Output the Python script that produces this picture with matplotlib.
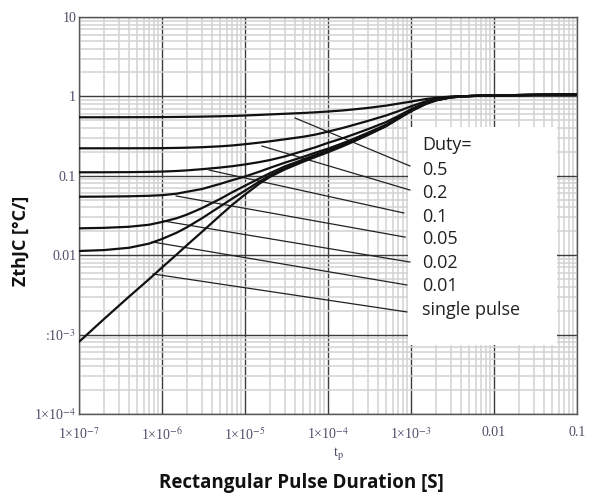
import numpy as np
import matplotlib
matplotlib.use("Agg")
import matplotlib.pyplot as plt
from matplotlib.ticker import LogLocator, FixedLocator, FixedFormatter, NullFormatter
from matplotlib.patches import Rectangle

plt.rcParams['mathtext.fontset'] = 'stix'

# ---- data ----
t = [1e-7, 2e-7, 4e-7, 7e-7, 1e-6, 1.5e-6, 2e-6, 3e-6, 5e-6, 7e-6,
     1e-5, 1.5e-5, 2e-5, 3e-5, 5e-5, 7e-5, 1e-4, 1.5e-4, 2e-4, 3e-4,
     5e-4, 7e-4, 1e-3, 1.5e-3, 2e-3, 3e-3, 5e-3, 1e-2, 3e-2, 1e-1]

z_d05 = [0.546, 0.546, 0.547, 0.548, 0.549, 0.551, 0.553, 0.556, 0.562, 0.567,
         0.575, 0.585, 0.593, 0.604, 0.618, 0.630, 0.645, 0.665, 0.685, 0.715,
         0.765, 0.810, 0.860, 0.925, 0.960, 0.995, 1.010, 1.030, 1.045, 1.060]
z_d02 = [0.222, 0.222, 0.2222, 0.2226, 0.223, 0.2245, 0.226, 0.229, 0.235, 0.241,
         0.250, 0.262, 0.272, 0.288, 0.310, 0.330, 0.360, 0.400, 0.435, 0.490,
         0.575, 0.650, 0.750, 0.865, 0.930, 0.985, 1.010, 1.030, 1.045, 1.060]
z_d01 = [0.1107, 0.1108, 0.1112, 0.112, 0.113, 0.115, 0.117, 0.121, 0.127, 0.132,
         0.139, 0.149, 0.158, 0.175, 0.205, 0.228, 0.260, 0.297, 0.330, 0.385,
         0.475, 0.565, 0.690, 0.830, 0.910, 0.980, 1.010, 1.030, 1.045, 1.060]
z_d005 = [0.0545, 0.0547, 0.0552, 0.056, 0.057, 0.0595, 0.063, 0.068, 0.079, 0.088,
          0.098, 0.113, 0.126, 0.146, 0.173, 0.195, 0.220, 0.257, 0.290, 0.347,
          0.440, 0.540, 0.665, 0.815, 0.900, 0.977, 1.010, 1.030, 1.045, 1.060]
z_d002 = [0.0218, 0.0221, 0.0228, 0.0242, 0.0262, 0.0292, 0.0325, 0.039, 0.051, 0.062,
          0.075, 0.093, 0.108, 0.131, 0.160, 0.183, 0.210, 0.247, 0.280, 0.337,
          0.432, 0.532, 0.660, 0.810, 0.897, 0.975, 1.010, 1.030, 1.045, 1.060]
z_d001 = [0.0113, 0.0116, 0.0124, 0.0140, 0.0160, 0.0192, 0.0225, 0.0290, 0.0410, 0.0515,
          0.065, 0.085, 0.101, 0.124, 0.154, 0.177, 0.203, 0.240, 0.273, 0.330,
          0.425, 0.525, 0.655, 0.805, 0.893, 0.972, 1.010, 1.030, 1.045, 1.060]
z_single = [8.1e-4, 1.57e-3, 3.0e-3, 5.0e-3, 7.0e-3, 1.02e-2, 1.34e-2, 1.95e-2, 3.15e-2, 4.3e-2,
            0.058, 0.080, 0.097, 0.120, 0.150, 0.172, 0.198, 0.235, 0.268, 0.325,
            0.420, 0.520, 0.650, 0.800, 0.890, 0.970, 1.010, 1.030, 1.045, 1.060]

curves = [z_d05, z_d02, z_d01, z_d005, z_d002, z_d001, z_single]

legend_title = "Duty="
legend_labels = ["0.5", "0.2", "0.1", "0.05", "0.02", "0.01", "single pulse"]

# pointer lines from curves to legend entries
ptr_start_t = [4.0e-5, 1.6e-5, 3.7e-6, 1.48e-6, 1.03e-6, 7.6e-7, 7.8e-7]
ptr_start_z = [0.535, 0.237, 0.118, 0.0557, 0.027, 0.0147, 0.0058]
ptr_end_t = [9.7e-4, 9.7e-4, 8.2e-4, 8.5e-4, 9.7e-4, 8.9e-4, 8.9e-4]
ptr_end_z = [0.133, 0.0662, 0.034, 0.0169, 0.0082, 0.00422, 0.00193]

x_ticks = [1e-7, 1e-6, 1e-5, 1e-4, 1e-3, 1e-2, 1e-1]
x_ticklabels = [r"1×10$^{-7}$", r"1×10$^{-6}$", r"1×10$^{-5}$", r"1×10$^{-4}$",
                r"1×10$^{-3}$", "0.01", "0.1"]
y_ticks = [1e-4, 1e-3, 1e-2, 1e-1, 1, 10]
y_ticklabels = [r"1×10$^{-4}$", r":10$^{-3}$", "0.01", "0.1", "1", "10"]

# ---- figure ----
fig = plt.figure(figsize=(5.93, 4.96), dpi=100)
ax = fig.add_axes([79/593, 82/496, 498/593, 397/496])
ax.set_xscale('log')
ax.set_yscale('log')
ax.set_xlim(1e-7, 1e-1)
ax.set_ylim(1e-4, 10)

ax.xaxis.set_major_locator(FixedLocator(x_ticks))
ax.xaxis.set_major_formatter(FixedFormatter(x_ticklabels))
ax.yaxis.set_major_locator(FixedLocator(y_ticks))
ax.yaxis.set_major_formatter(FixedFormatter(y_ticklabels))
for axis in (ax.xaxis, ax.yaxis):
    axis.set_minor_locator(LogLocator(base=10, subs=np.arange(2, 10), numticks=100))
    axis.set_minor_formatter(NullFormatter())

ax.grid(which='minor', color='#d2d2d2', lw=1.1, zorder=0)
ax.grid(which='major', color='#3c3c3c', lw=1.0, zorder=0.5)
ax.set_axisbelow(True)

tick_color = '#4f4e6a'
ax.tick_params(which='both', length=0)
ax.tick_params(axis='x', pad=9, labelsize=10, labelcolor=tick_color)
ax.tick_params(axis='y', pad=2, labelsize=10, labelcolor=tick_color)
for lab in ax.get_xticklabels() + ax.get_yticklabels():
    lab.set_family('Liberation Serif')

for sp in ax.spines.values():
    sp.set_color('#555555')
    sp.set_linewidth(1.0)

# legend white box
ax.add_patch(Rectangle((0.661, 0.174), 0.299, 0.549, transform=ax.transAxes,
                       facecolor='white', edgecolor='none', zorder=2))

for z in curves:
    ax.plot(t, z, color='#111111', lw=1.6, zorder=4, solid_capstyle='round',
            solid_joinstyle='round')

for ts, zs, te, ze in zip(ptr_start_t, ptr_start_z, ptr_end_t, ptr_end_z):
    ax.plot([ts, te], [zs, ze], color='#222222', lw=0.9, zorder=3)

leg_font = 'Open Sans'
ax.text(0.689, 0.678, legend_title, transform=ax.transAxes, fontsize=13,
        family=leg_font, color='#222222', va='center', ha='left', zorder=5)
leg_y = [0.615, 0.557, 0.496, 0.441, 0.380, 0.322, 0.262]
for lbl, yy in zip(legend_labels, leg_y):
    ax.text(0.689, yy, lbl, transform=ax.transAxes, fontsize=13,
            family=leg_font, color='#222222', va='center', ha='left', zorder=5)

fig.text(21/593, 1 - 241/496, "ZthJC [°C/]", rotation=90, fontsize=13,
         fontweight='bold', family='Open Sans', ha='center', va='center', color='#111111')
fig.text(339/593, 1 - 453/496, r"t$_\mathrm{p}$", fontsize=10.5, family='Liberation Serif',
         color=tick_color, ha='center', va='center')
fig.text(301/593, 1 - 483/496, "Rectangular Pulse Duration [S]", fontsize=13.5,
         fontweight='bold', family='Open Sans', ha='center', va='center', color='#111111')

fig.savefig("out.png", dpi=100)
